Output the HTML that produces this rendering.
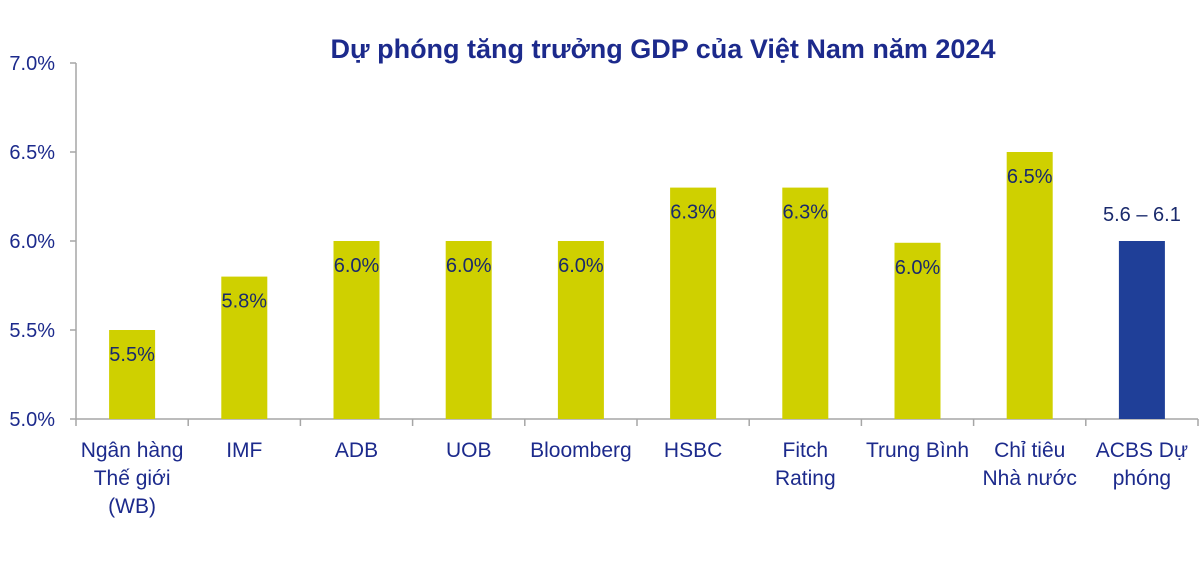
<!DOCTYPE html>
<html><head><meta charset="utf-8"><style>
body{margin:0;background:#fff;width:1200px;height:573px;overflow:hidden;font-family:"Liberation Sans",sans-serif}
svg text{font-family:"Liberation Sans","DejaVu Sans",sans-serif}
</style></head><body>
<svg id="c" width="1200" height="573">
<text x="663" y="58" text-anchor="middle" font-size="27" font-weight="bold" fill="#1c2a8c">Dự phóng tăng trưởng GDP của Việt Nam năm 2024</text>
</svg>
<script>
const categories=[["Ngân hàng","Thế giới","(WB)"],["IMF"],["ADB"],["UOB"],["Bloomberg"],["HSBC"],["Fitch","Rating"],["Trung Bình"],["Chỉ tiêu","Nhà nước"],["ACBS Dự","phóng"]];
const values=[5.5,5.8,6.0,6.0,6.0,6.3,6.3,5.99,6.5,6.0];
const valueLabels=["5.5%","5.8%","6.0%","6.0%","6.0%","6.3%","6.3%","6.0%","6.5%","5.6 – 6.1"];
const yTicks=[5.0,5.5,6.0,6.5,7.0];
const yTickLabels=["5.0%","5.5%","6.0%","6.5%","7.0%"];
const svg=document.getElementById('c');const NS='http://www.w3.org/2000/svg';
const x0=76,x1=1198,yB=419,yT=63,vMin=5,vMax=7;
const band=(x1-x0)/categories.length;
const y=v=>yB-(v-vMin)/(vMax-vMin)*(yB-yT);
const xc=i=>x0+band*(i+0.5);
function el(t,a,txt){const e=document.createElementNS(NS,t);for(const k in a)e.setAttribute(k,a[k]);if(txt!==undefined)e.textContent=txt;svg.appendChild(e);return e;}
const ax=el('line',{x1:x0,y1:yT,x2:x0,y2:yB,stroke:'#a6a6a6','stroke-width':1.5});


const bx=el('line',{x1:x0,y1:yB,x2:x1,y2:yB,stroke:'#a6a6a6','stroke-width':1.5});


yTicks.forEach((v,i)=>{
 const tk=el('line',{x1:x0-6,y1:y(v),x2:x0,y2:y(v),stroke:'#a6a6a6','stroke-width':1.5});
 
 
 const t=el('text',{x:55,y:y(v)+7,'text-anchor':'end','font-size':20,fill:'#1c2a8c'},yTickLabels[i]);
 
 
});
for(let i=0;i<=categories.length;i++){
 const tk=el('line',{x1:x0+band*i,y1:yB,x2:x0+band*i,y2:yB+7,stroke:'#a6a6a6','stroke-width':1.5});
 
 
}
values.forEach((v,i)=>{
 const last=i===values.length-1;
 const r=el('rect',{x:xc(i)-23,y:y(v),width:46,height:yB-y(v),fill:last?'#1f3f98':'#cfd000'});
 
 
 const t=el('text',{x:xc(i),y:last?y(v)-20:y(v)+31,'text-anchor':'middle','font-size':20,fill:'#1a2a6c'},valueLabels[i]);
 
 
 categories[i].forEach((ln,j)=>{
  const c=el('text',{x:xc(i),y:457+j*28,'text-anchor':'middle','font-size':21,fill:'#1c2a8c'},ln);
  
  
 });
});
</script>
</body></html>
